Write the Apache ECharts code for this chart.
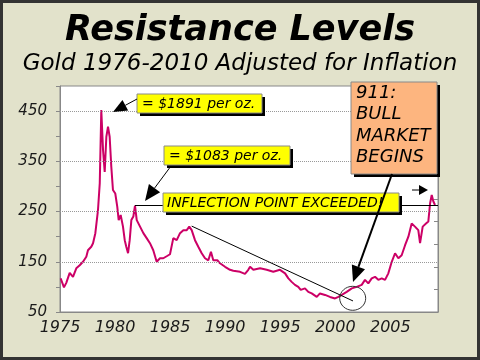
<!DOCTYPE html>
<html><head><meta charset="utf-8">
<script src="https://cdn.jsdelivr.net/npm/echarts@6/dist/echarts.min.js"></script>
<style>html,body{margin:0;padding:0;background:#E2E2CB}#c{width:480px;height:360px}</style>
</head><body><div id="c"></div>
<script>
const years = [1975.06,1975.36,1975.57,1975.88,1976.18,1976.48,1976.79,1977.09,1977.39,1977.54,1977.84,1978.00,1978.21,1978.45,1978.61,1978.75,1978.91,1979.06,1979.21,1979.36,1979.51,1979.66,1979.81,1980.02,1980.20,1980.33,1980.51,1980.72,1980.88,1981.02,1981.18,1981.33,1981.48,1981.66,1981.81,1981.97,1982.27,1982.57,1982.87,1983.17,1983.47,1983.78,1984.08,1984.38,1984.69,1984.99,1985.29,1985.60,1985.90,1986.20,1986.51,1986.74,1986.96,1987.26,1987.56,1987.87,1988.17,1988.47,1988.71,1988.92,1989.29,1989.53,1989.99,1990.44,1990.74,1991.35,1991.80,1992.10,1992.26,1992.56,1993.17,1993.77,1994.37,1994.98,1995.44,1995.74,1996.04,1996.34,1996.64,1996.86,1997.25,1997.55,1997.86,1998.32,1998.61,1999.07,1999.52,1999.98,2000.28,2000.59,2001.04,2001.50,2001.95,2002.40,2002.70,2003.00,2003.31,2003.61,2003.91,2004.22,2004.52,2004.82,2005.13,2005.43,2005.73,2006.03,2006.34,2006.64,2006.94,2007.24,2007.54,2007.70,2007.94,2008.24,2008.45,2008.61,2008.76,2008.91,2009.06];
const values = [117,99,108,128,120,137,143,150,160,173,180,187,207,253,306,452,372,329,399,419,399,339,293,286,260,233,243,220,193,180,167,193,233,240,262,233,220,207,197,187,173,150,157,157,161,165,197,193,207,213,213,220,213,193,180,167,157,153,170,153,153,147,140,134,132,130,126,134,140,134,137,134,130,134,127,117,110,104,100,94,97,90,87,80,87,84,80,77,80,84,90,97,100,104,114,107,117,120,114,117,114,127,150,167,157,163,183,200,226,220,213,187,220,226,230,266,283,270,263];
const yTickLabels = [50,150,250,350,450];
const xTickLabels = [1975,1980,1985,1990,1995,2000,2005];
const gridLevels = [150,250,350,450];
const inflectionLevel = 262;
const inflectionStart = 1981.81;
const trendStart = [1986.96, 221];
const trendEnd = [2001.61, 72];

const FONT = 'DejaVu Sans';
const chart = echarts.init(document.getElementById('c'));

function arrow(x1,y1,x2,y2,L,W,lw){
  const dx=x2-x1, dy=y2-y1, d=Math.hypot(dx,dy), ux=dx/d, uy=dy/d;
  const bx=x2-ux*L, by=y2-uy*L;
  return [
    {type:'line',z:20,shape:{x1:x1,y1:y1,x2:bx,y2:by},style:{stroke:'#000',lineWidth:lw}},
    {type:'polygon',z:20,shape:{points:[[x2,y2],[bx-uy*W,by+ux*W],[bx+uy*W,by-ux*W]]},style:{fill:'#000'}}
  ];
}
function box(x,y,w,h,fill,lines,fs,lh,tx,ty){
  const els=[
    {type:'rect',z:18,shape:{x:x+3,y:y+3,width:w,height:h},style:{fill:'#000'}},
    {type:'rect',z:19,shape:{x:x,y:y,width:w,height:h},style:{fill:fill,stroke:'#8a8a8a',lineWidth:1}}
  ];
  lines.forEach((t,i)=>els.push({type:'text',z:21,style:{text:t,x:tx,y:ty+i*lh,font:'italic '+fs+'px "'+FONT+'"',fill:'#000',textVerticalAlign:'middle'}}));
  return els;
}

const graphics = [].concat(
  [{type:'rect',z:30,shape:{x:1.5,y:1.5,width:477,height:357},style:{fill:'none',stroke:'#333',lineWidth:3}},
   {type:'text',z:21,style:{text:'Resistance Levels',x:240,y:31,font:'italic bold 35px "'+FONT+'"',fill:'#000',textAlign:'center',textVerticalAlign:'middle'}},
   {type:'text',z:21,style:{text:'Gold 1976-2010 Adjusted for Inflation',x:240,y:64,font:'italic 23px "'+FONT+'"',fill:'#000',textAlign:'center',textVerticalAlign:'middle'}}],
  box(137,94,125,19,'#FFFF00',['= $1891 per oz.'],14,0,142,104),
  box(164,146,126,19,'#FFFF00',['= $1083 per oz.'],14,0,169,156),
  box(163,193,236,19,'#FFFF00',['INFLECTION POINT EXCEEDED!'],14,0,167,203),
  box(351,82,86,92,'#FDB57F',['911:','BULL','MARKET','BEGINS'],18,21.3,356,93.5),
  arrow(137,99,113,112,14,6,1),
  arrow(171,166,145,201,16,7,1),
  arrow(392,174,353,282,16,7,2),
  arrow(412,190,428,190,9,5,1),
  [{type:'ellipse',z:20,shape:{cx:352.7,cy:298.3,rx:13,ry:12},style:{fill:'none',stroke:'#333',lineWidth:1}}]
);

chart.setOption({
  backgroundColor:'#E2E2CB',
  animation:false,
  grid:{left:60,right:42,top:86,bottom:48,show:true,backgroundColor:'#fff',borderColor:'#888',borderWidth:1},
  xAxis:{type:'value',min:1975,max:2009.33,interval:5,
    axisLine:{lineStyle:{color:'#888'}},axisTick:{show:false},splitLine:{show:false},
    axisLabel:{showMaxLabel:false,margin:8,fontFamily:FONT,fontStyle:'italic',fontSize:16,color:'#1a1a1a',
      formatter:v=>xTickLabels.indexOf(v)>=0?String(v):''}},
  yAxis:[{type:'value',min:50,max:500,interval:50,
    axisLine:{show:true,lineStyle:{color:'#888'}},axisTick:{show:true,length:4,lineStyle:{color:'#888'}},splitLine:{show:false},
    axisLabel:{margin:13,fontFamily:FONT,fontStyle:'italic',fontSize:15,color:'#1a1a1a',
      formatter:v=>yTickLabels.indexOf(v)>=0?String(v):''}},
   {type:'value',min:0,max:10,interval:1,position:'right',
    axisLine:{show:true,lineStyle:{color:'#888'}},axisTick:{show:true,inside:true,length:4,lineStyle:{color:'#888'}},
    axisLabel:{show:false},splitLine:{show:false}}],
  graphic:graphics,
  series:[{type:'line',yAxisIndex:0,data:years.map((y,i)=>[y,values[i]]),showSymbol:false,
    lineStyle:{color:'#CC0066',width:2},itemStyle:{color:'#CC0066'},
    markLine:{silent:true,symbol:'none',label:{show:false},animation:false,
      data:gridLevels.map(v=>({yAxis:v,lineStyle:{color:'#999',type:'dotted',width:1}})).concat([
        [{coord:[inflectionStart,inflectionLevel],lineStyle:{color:'#000',type:'solid',width:1}},{coord:[2009.33,inflectionLevel]}],
        [{coord:trendStart,lineStyle:{color:'#000',type:'solid',width:1}},{coord:trendEnd}]
      ])}}]
});
</script></body></html>
